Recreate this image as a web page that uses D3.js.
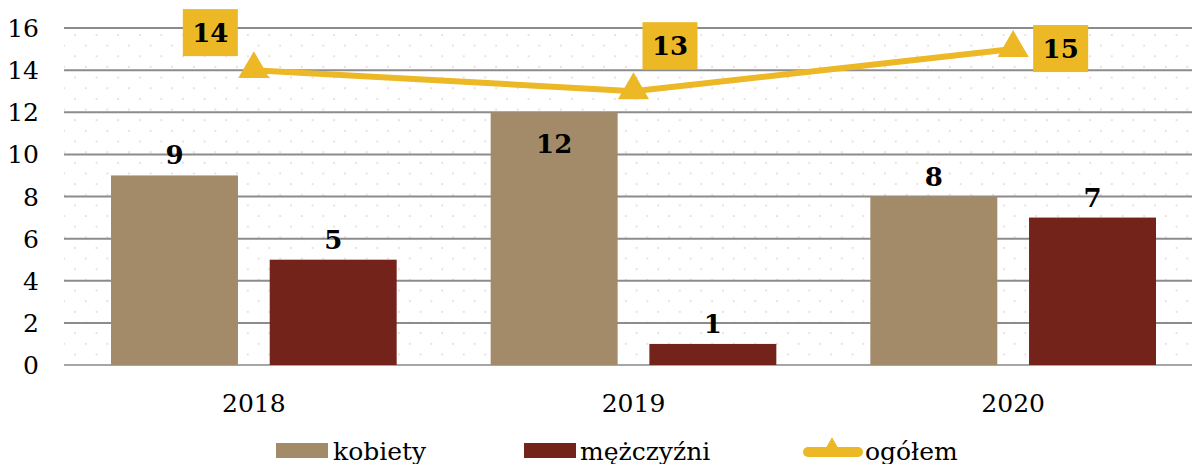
<!DOCTYPE html>
<html>
<head>
<meta charset="utf-8">
<script src="https://d3js.org/d3.v7.min.js"></script>
<style>
  body { margin: 0; background: #fff; }
  svg { display: block; font-family: "DejaVu Serif", "Liberation Serif", serif; }
</style>
</head>
<body>
<svg width="1192" height="464"></svg>
<script>
  var years = ["2018", "2019", "2020"];
  var kobiety = [9, 12, 8];
  var mezczyzni = [5, 1, 7];
  var ogolem = [14, 13, 15];
  var yTicks = [0, 2, 4, 6, 8, 10, 12, 14, 16];

  var svg = d3.select("svg");
  var pLeft = 64, pRight = 1203, pTop = 28, pBottom = 365;

  var x = d3.scaleBand().domain(years).range([pLeft, pRight]);
  var y = d3.scaleLinear().domain([0, 16]).range([pBottom, pTop]);
  var inner = d3.scaleBand().domain(["k", "m"]).range([47, x.bandwidth() - 47]).paddingInner(0.2);

  // dotted background
  var defs = svg.append("defs");
  var pat = defs.append("pattern")
    .attr("id", "dots")
    .attr("patternUnits", "userSpaceOnUse")
    .attr("x", pLeft + 10).attr("y", pTop + 6)
    .attr("width", 21.6).attr("height", 21.3);
  pat.append("circle").attr("cx", 1).attr("cy", 1).attr("r", 1).style("fill", "#ecd2d2");
  pat.append("circle").attr("cx", 11.8).attr("cy", 11.6).attr("r", 1).style("fill", "#ecd2d2");
  svg.append("rect")
    .attr("x", pLeft).attr("y", pTop)
    .attr("width", pRight - pLeft).attr("height", pBottom - pTop)
    .style("fill", "url(#dots)");

  // grid lines
  svg.append("g")
    .selectAll("line")
    .data(yTicks)
    .enter()
    .append("line")
    .attr("x1", pLeft).attr("x2", pRight)
    .attr("y1", function(d) { return y(d); })
    .attr("y2", function(d) { return y(d); })
    .style("stroke", function(d) { return d == 0 ? "#a6a6a6" : "#8c8c8c"; })
    .style("stroke-width", 2);

  // y axis labels
  svg.append("g")
    .selectAll("text")
    .data(yTicks)
    .enter()
    .append("text")
    .attr("x", 39)
    .attr("y", function(d) { return y(d) + 9; })
    .attr("text-anchor", "end")
    .style("font-size", "25px")
    .text(function(d) { return d; });

  // x axis labels
  svg.append("g")
    .selectAll("text")
    .data(years)
    .enter()
    .append("text")
    .attr("x", function(d) { return x(d) + x.bandwidth() / 2; })
    .attr("y", 412)
    .attr("text-anchor", "middle")
    .style("font-size", "25px")
    .text(function(d) { return d; });

  // bars
  svg.append("g")
    .selectAll("rect")
    .data(kobiety)
    .enter()
    .append("rect")
    .attr("x", function(d, i) { return x(years[i]) + inner("k"); })
    .attr("y", function(d) { return y(d); })
    .attr("width", inner.bandwidth())
    .attr("height", function(d) { return y(0) - y(d); })
    .style("fill", "#a38b69");

  svg.append("g")
    .selectAll("rect")
    .data(mezczyzni)
    .enter()
    .append("rect")
    .attr("x", function(d, i) { return x(years[i]) + inner("m"); })
    .attr("y", function(d) { return y(d); })
    .attr("width", inner.bandwidth())
    .attr("height", function(d) { return y(0) - y(d); })
    .style("fill", "#74231a");

  // bar labels
  svg.append("g")
    .selectAll("text")
    .data(kobiety)
    .enter()
    .append("text")
    .attr("x", function(d, i) { return x(years[i]) + inner("k") + inner.bandwidth() / 2; })
    .attr("y", function(d, i) { return i == 1 ? y(d) + 41 : y(d) - 11; })
    .attr("text-anchor", "middle")
    .style("font-size", "26px")
    .style("font-weight", "bold")
    .text(function(d) { return d; });

  svg.append("g")
    .selectAll("text")
    .data(mezczyzni)
    .enter()
    .append("text")
    .attr("x", function(d, i) { return x(years[i]) + inner("m") + inner.bandwidth() / 2; })
    .attr("y", function(d) { return y(d) - 11; })
    .attr("text-anchor", "middle")
    .style("font-size", "26px")
    .style("font-weight", "bold")
    .text(function(d) { return d; });

  // line
  var line = d3.line()
    .x(function(d, i) { return x(years[i]) + x.bandwidth() / 2; })
    .y(function(d) { return y(d); });

  svg.append("path")
    .datum(ogolem)
    .attr("d", line)
    .style("fill", "none")
    .style("stroke", "#ecb826")
    .style("stroke-width", 6);

  var tri = d3.symbol().type(d3.symbolTriangle).size(420);
  svg.append("g")
    .selectAll("path")
    .data(ogolem)
    .enter()
    .append("path")
    .attr("d", tri)
    .attr("transform", function(d, i) {
      return "translate(" + (x(years[i]) + x.bandwidth() / 2) + "," + (y(d) - 1) + ")";
    })
    .style("fill", "#ecb826");

  // line labels in boxes
  var boxOffsets = [[-71, -61], [9, -69], [20, -24]];
  var lbl = svg.append("g")
    .selectAll("g")
    .data(ogolem)
    .enter()
    .append("g")
    .attr("transform", function(d, i) {
      return "translate(" + (x(years[i]) + x.bandwidth() / 2 + boxOffsets[i][0]) + "," + (y(d) + boxOffsets[i][1]) + ")";
    });
  lbl.append("rect")
    .attr("width", 55).attr("height", 47)
    .style("fill", "#ecb826");
  lbl.append("text")
    .attr("x", 27.5).attr("y", 33)
    .attr("text-anchor", "middle")
    .style("font-size", "26px")
    .style("font-weight", "bold")
    .text(function(d) { return d; });

  // legend
  var legend = svg.append("g");
  legend.append("rect").attr("x", 276).attr("y", 443).attr("width", 52).attr("height", 15).style("fill", "#a38b69");
  legend.append("text").attr("x", 333).attr("y", 460).style("font-size", "25px").text("kobiety");
  legend.append("rect").attr("x", 524).attr("y", 443).attr("width", 52).attr("height", 15).style("fill", "#74231a");
  legend.append("text").attr("x", 580).attr("y", 460).style("font-size", "25px").text("mężczyźni");
  legend.append("line").attr("x1", 808).attr("x2", 858).attr("y1", 452).attr("y2", 452)
    .style("stroke", "#ecb826").style("stroke-width", 10).style("stroke-linecap", "round");
  legend.append("path").attr("d", d3.symbol().type(d3.symbolTriangle).size(180))
    .attr("transform", "translate(832,449)").style("fill", "#ecb826");
  legend.append("text").attr("x", 865).attr("y", 460).style("font-size", "25px").text("ogółem");
</script>
</body>
</html>
